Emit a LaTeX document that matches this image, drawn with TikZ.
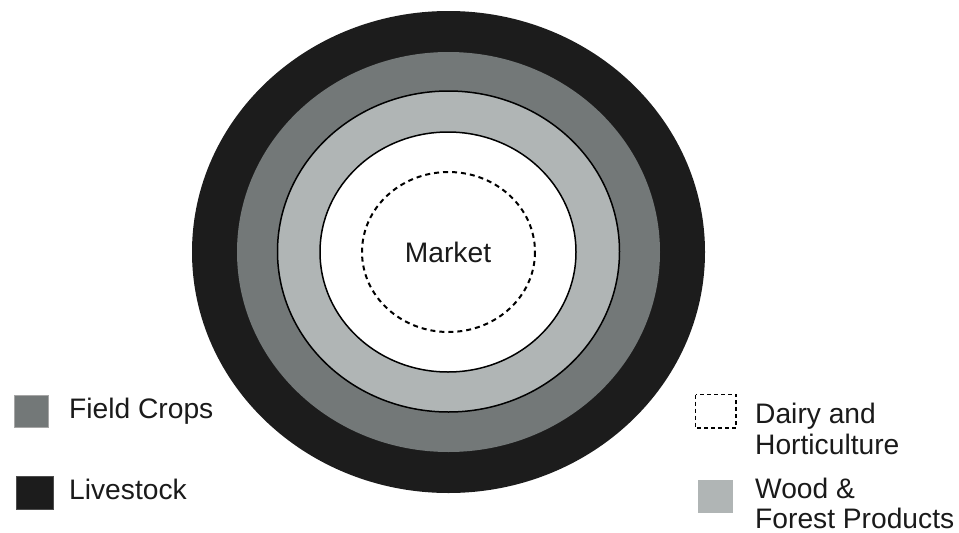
\documentclass[tikz,border=0pt]{standalone}
\usepackage{fontspec}
\setmainfont{Liberation Sans}
\definecolor{ringblack}{HTML}{1C1C1C}
\definecolor{ringdark}{HTML}{737878}
\definecolor{ringlight}{HTML}{B0B5B5}
\definecolor{txt}{HTML}{1A1A1A}
\tikzset{
  lbl/.style={inner sep=0pt, anchor=base west, text=txt, font=\fontsize{28.2}{31}\selectfont},
  ringline/.style={draw=black, line width=1.5pt},
}
\begin{document}
\begin{tikzpicture}[x=1pt,y=-1pt]
\useasboundingbox (0,0) rectangle (959,533);
% rings
\fill[ringblack] (448.5,252) ellipse [x radius=256.5, y radius=241];
\fill[ringdark] (448.5,252) ellipse [x radius=211.5, y radius=200];
\filldraw[fill=ringlight, ringline] (448.5,251.5) ellipse [x radius=171, y radius=160.5];
\filldraw[fill=white, ringline] (448,252) ellipse [x radius=128, y radius=120];
\draw[black, line width=2pt, dash pattern=on 5pt off 4pt] (448.5,252) ellipse [x radius=86.5, y radius=80];
\node[lbl, anchor=base] (market) at (448,262.5) {Market};
% left legend
\fill[ringdark, draw=gray!70, line width=0.6pt] (14,395) rectangle (48,427);
\node[lbl] (field) at (69,418) {Field Crops};
\fill[ringblack, draw=black!70, line width=0.6pt] (16,476) rectangle (53,509);
\node[lbl] (live) at (69,499) {Livestock};
% right legend
\draw[black, line width=1.6pt, dash pattern=on 4pt off 3pt] (695.5,394.5) rectangle (736,428);
\node[lbl] (dairy1) at (755,423) {Dairy and};
\node[lbl] (dairy2) at (755,454) {Horticulture};
\fill[ringlight] (698,480) rectangle (733,513);
\node[lbl] (wood1) at (755,498) {Wood \&};
\node[lbl] (wood2) at (755,528) {Forest Products};
\end{tikzpicture}
\end{document}
